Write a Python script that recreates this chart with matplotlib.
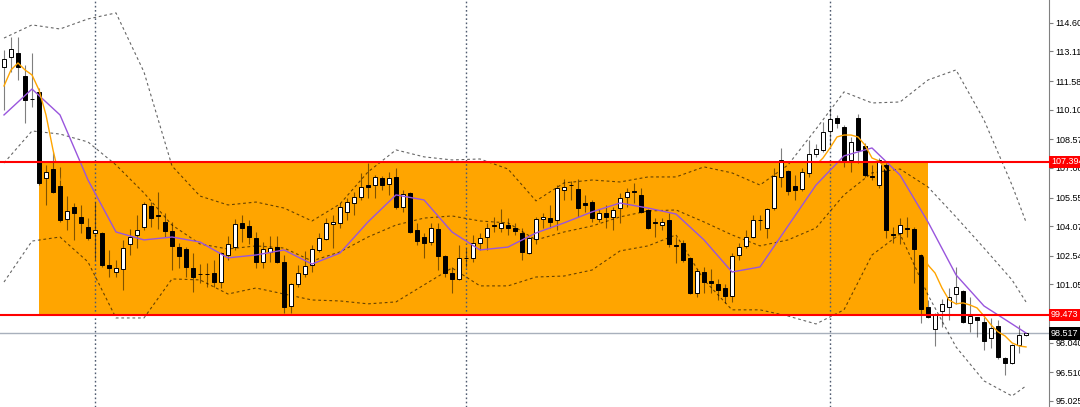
import matplotlib.pyplot as plt
from matplotlib.patches import Rectangle

# daily candles, oldest first
opens = [112.31, 112.83, 113.04, 111.85, 110.66, 111.02, 106.57, 107.03, 106.15, 104.44,
         105.06, 104.55, 104.03, 103.72, 103.72, 102.06, 101.70, 101.86, 103.15, 103.62,
         104.03, 105.12, 104.65, 104.29, 103.82, 102.99, 102.89, 101.91, 101.60, 101.62,
         101.65, 101.18, 102.58, 102.99, 104.24, 104.08, 103.46, 102.22, 102.74, 102.99,
         102.22, 99.94, 101.08, 101.60, 102.06, 102.84, 103.41, 104.18, 104.24, 104.81,
         105.27, 105.58, 106.20, 106.20, 106.57, 106.26, 106.62, 105.06, 105.79, 103.87,
         103.51, 103.25, 103.92, 102.53, 101.65, 101.34, 102.43, 102.43, 103.20, 103.51,
         104.13, 103.98, 104.13, 103.98, 103.72, 102.68, 103.41, 104.44, 104.49, 104.39,
         105.95, 106.20, 106.00, 105.27, 105.32, 104.44, 104.75, 104.55, 105.01, 105.58,
         105.89, 105.69, 104.91, 104.29, 104.13, 104.39, 103.10, 103.20, 102.43, 100.61,
         101.70, 101.24, 101.08, 100.87, 100.46, 102.58, 103.05, 103.51, 104.39, 103.98,
         105.01, 106.62, 106.93, 106.15, 106.00, 106.83, 107.81, 108.02, 109.00, 109.67,
         109.21, 107.50, 109.67, 108.22, 106.67, 106.20, 107.24, 103.67, 103.72, 103.98,
         103.92, 102.58, 99.89, 98.75, 99.68, 99.89, 100.56, 100.72, 99.06, 99.37,
         99.11, 98.29, 98.91, 97.25, 96.99, 97.92, 98.44]
highs = [113.19, 113.87, 113.87, 112.42, 113.04, 111.23, 107.24, 107.91, 107.14, 105.63,
         105.27, 105.17, 104.49, 105.32, 103.77, 102.84, 102.32, 103.36, 103.92, 104.65,
         105.32, 105.32, 105.84, 104.75, 104.29, 103.20, 102.99, 102.68, 102.11, 102.17,
         102.32, 102.74, 103.56, 104.44, 104.65, 104.39, 103.77, 103.25, 103.56, 103.56,
         102.58, 101.13, 102.06, 102.79, 103.10, 103.72, 104.49, 104.65, 105.27, 105.53,
         105.84, 106.83, 107.34, 106.72, 106.67, 106.88, 107.08, 105.95, 105.84, 104.24,
         103.72, 104.24, 104.24, 102.58, 101.96, 103.10, 102.94, 103.62, 103.72, 104.24,
         104.55, 104.96, 104.49, 104.24, 103.98, 103.51, 104.55, 104.75, 105.17, 106.20,
         106.51, 106.41, 106.51, 105.69, 105.43, 104.96, 105.17, 105.06, 105.79, 106.05,
         106.31, 106.05, 104.96, 104.49, 104.49, 104.75, 103.51, 103.36, 102.48, 101.86,
         101.96, 101.86, 101.34, 101.08, 102.68, 103.20, 103.87, 104.65, 104.65, 105.01,
         107.08, 108.12, 106.98, 106.72, 107.08, 108.53, 108.33, 109.47, 110.19, 109.83,
         109.31, 108.69, 109.88, 108.38, 107.24, 107.60, 107.34, 104.03, 104.49, 104.55,
         104.03, 102.63, 100.25, 99.58, 100.30, 100.87, 101.96, 100.77, 100.41, 99.37,
         99.37, 99.32, 99.22, 97.30, 97.98, 98.96, 98.55]
lows = [110.09, 112.05, 111.64, 109.41, 110.24, 106.20, 105.17, 105.79, 104.29, 103.87,
        103.36, 103.72, 103.36, 102.32, 101.96, 101.44, 101.44, 100.77, 102.58, 102.94,
        103.87, 104.03, 103.92, 103.51, 101.80, 101.91, 101.44, 100.67, 101.13, 100.93,
        100.93, 100.87, 102.32, 102.84, 103.25, 103.15, 101.91, 101.91, 102.22, 102.17,
        99.58, 99.58, 100.93, 101.44, 101.70, 102.74, 103.36, 102.94, 103.98, 104.39,
        104.65, 105.43, 105.53, 105.53, 105.95, 105.69, 104.96, 104.81, 103.72, 103.10,
        102.43, 103.10, 101.80, 101.44, 100.61, 101.29, 101.96, 102.22, 102.84, 102.84,
        103.77, 103.77, 103.62, 103.62, 102.32, 102.63, 103.15, 103.98, 103.98, 103.87,
        105.43, 105.43, 104.55, 104.81, 104.29, 104.29, 103.98, 103.87, 104.24, 105.06,
        105.27, 104.75, 103.95, 103.51, 103.87, 102.99, 102.17, 102.22, 100.56, 100.41,
        100.61, 100.61, 100.25, 100.10, 100.15, 102.32, 102.94, 103.46, 103.87, 103.46,
        104.91, 106.10, 105.69, 105.43, 105.89, 106.62, 107.66, 107.91, 108.17, 109.15,
        107.14, 106.88, 107.34, 106.62, 106.46, 106.05, 103.46, 103.20, 103.15, 103.51,
        101.13, 99.06, 99.32, 97.87, 98.85, 99.22, 100.05, 99.06, 98.60, 98.34,
        97.67, 97.77, 97.20, 96.37, 96.94, 97.51, 98.39]
closes = [112.73, 113.24, 112.31, 110.60, 110.63, 106.31, 106.88, 105.84, 104.39, 104.86,
          104.75, 104.24, 103.46, 103.87, 102.06, 101.91, 101.91, 102.94, 103.51, 103.87,
          105.22, 104.49, 104.60, 103.82, 103.05, 102.53, 101.96, 101.44, 101.57, 101.60,
          101.18, 102.68, 103.15, 104.18, 103.98, 103.51, 102.22, 102.89, 102.94, 102.22,
          99.89, 101.08, 101.65, 102.01, 102.89, 103.46, 104.24, 104.29, 105.06, 105.32,
          105.58, 106.10, 106.10, 106.62, 106.20, 106.57, 105.06, 105.74, 103.77, 103.30,
          103.20, 103.98, 102.53, 101.65, 101.34, 102.43, 102.40, 103.20, 103.46, 103.98,
          104.10, 104.24, 103.98, 103.82, 102.74, 103.46, 104.44, 104.55, 104.29, 106.05,
          106.10, 106.18, 105.01, 105.17, 104.49, 104.75, 104.55, 104.91, 105.53, 105.84,
          105.84, 104.81, 103.98, 104.24, 104.29, 103.15, 103.07, 102.32, 100.61, 101.75,
          101.18, 101.13, 100.77, 100.46, 102.53, 102.99, 103.51, 104.39, 104.37, 104.96,
          106.67, 107.50, 105.89, 105.95, 106.88, 107.81, 108.07, 108.95, 109.62, 109.41,
          107.39, 108.43, 108.02, 106.72, 106.64, 107.50, 103.87, 103.64, 104.13, 103.95,
          102.89, 99.79, 99.37, 99.47, 100.05, 100.41, 100.93, 99.11, 99.42, 99.22,
          98.13, 98.80, 97.30, 96.99, 97.92, 98.44, 98.52]

band_idx = list(range(0, 145, 4)) + [146]
bb_upper = [113.81, 114.49, 114.28, 114.80, 115.11, 112.05, 107.19, 105.63, 105.17, 105.32,
            105.01, 104.34, 105.22, 106.88, 108.02, 107.66, 107.50, 107.55, 107.03, 105.38,
            106.31, 106.46, 106.36, 106.62, 106.62, 107.14, 106.83, 106.20, 107.24, 109.10,
            111.02, 110.45, 110.50, 111.64, 112.16, 109.57, 106.20, 104.29]
bb_middle = [107.34, 109.00, 108.84, 108.43, 107.24, 105.79, 104.13, 103.15, 102.89, 103.05,
             102.94, 102.27, 102.74, 103.51, 104.13, 104.49, 104.60, 104.34, 104.24, 103.36,
             103.77, 104.08, 104.55, 104.86, 104.91, 104.29, 103.62, 103.05, 103.36, 103.98,
             105.69, 106.83, 107.03, 106.10, 104.55, 102.94, 101.29, 100.15]
bb_lower = [101.18, 103.30, 103.51, 102.22, 99.32, 99.32, 101.34, 101.29, 100.56, 100.87,
            100.56, 100.25, 100.20, 100.05, 100.15, 101.03, 101.91, 100.98, 100.98, 101.44,
            101.49, 101.80, 102.79, 103.05, 103.62, 101.29, 99.74, 99.74, 99.42, 99.01,
            99.74, 102.58, 103.67, 100.51, 97.82, 96.06, 95.28, 95.80]
ma_slow = [109.83, 111.17, 109.83, 106.46, 103.77, 103.36, 103.51, 103.25, 102.43, 102.58,
           102.84, 102.11, 102.68, 104.29, 105.69, 105.43, 103.77, 102.84, 102.99, 103.72,
           104.24, 104.81, 105.27, 105.01, 104.70, 103.36, 101.70, 101.96, 104.08, 106.20,
           107.71, 108.12, 106.72, 104.29, 101.55, 99.94, 99.01, 98.54]

# fast average: only the parts that show outside the zone
fast_left_idx = list(range(0, 9))
fast_left = [111.33, 112.16, 112.52, 112.16, 111.90, 111.12, 109.83, 108.02, 106.46]
fast_mid_idx = list(range(116, 127))
fast_mid = [107.24, 107.60, 108.12, 108.69, 108.79, 108.79, 108.69, 108.27, 107.60, 107.45, 106.98]
fast_tail_idx = list(range(131, 147))
fast_tail = [102.89, 102.06, 101.65, 100.87, 100.25, 100.05, 100.10, 99.99, 99.84, 99.42,
             98.96, 98.60, 98.39, 98.03, 97.87, 97.82]

zone_top = 107.394
zone_bottom = 99.473
zone_from, zone_to = 5, 132
last_price = 98.517
separators = [13, 66, 118]
price_ticks = [114.600, 113.115, 111.585, 110.100, 108.570, 107.085, 105.555, 104.070,
               102.540, 101.055, 98.040, 96.510, 95.025]

ORANGE = "#FFA500"
PURPLE = "#9955dd"

plt.rcParams["font.family"] = ["Liberation Sans", "DejaVu Sans"]

fig = plt.figure(figsize=(10.8, 4.07), dpi=100)
ax = fig.add_axes([0, 0, 1049 / 1080, 1])
ax.set_xlim(-4 / 7, 1045 / 7)
ax.set_ylim(94.71, 115.78)

# zone
ax.add_patch(Rectangle((zone_from, zone_bottom), zone_to - zone_from, zone_top - zone_bottom,
                       facecolor=ORANGE, edgecolor="none", zorder=1))

# period separators and last price line
for s in separators:
    ax.axvline(s, color="#4f5b70", lw=1, ls=(0, (1.2, 1.8)), zorder=2)
ax.axhline(last_price, color="#a8b0bc", lw=1, zorder=2)

# bollinger bands
for band in (bb_upper, bb_middle, bb_lower):
    ax.plot(band_idx, band, color="black", alpha=0.6, lw=0.8, ls=(0, (2.5, 2.5)), zorder=3)

# candles
x = list(range(len(opens)))
ax.vlines(x, lows, highs, color="black", alpha=0.5, lw=0.8, zorder=4)
bottoms = [min(o, c) for o, c in zip(opens, closes)]
heights = [max(abs(c - o), 0.01) for o, c in zip(opens, closes)]
fills = ["white" if c >= o else "black" for o, c in zip(opens, closes)]
ax.bar(x, heights, bottom=bottoms, width=0.55, color=fills, edgecolor="black",
       linewidth=0.7, zorder=5)

# moving averages
ax.plot(band_idx, ma_slow, color=PURPLE, lw=1, zorder=6)
for xs, ys in ((fast_left_idx, fast_left), (fast_mid_idx, fast_mid), (fast_tail_idx, fast_tail)):
    ax.plot(xs, ys, color=ORANGE, lw=1, zorder=6)

# zone borders
for lvl in (zone_top, zone_bottom):
    ax.axhline(lvl, color="#ff0000", lw=1.5, zorder=7)

# price scale on the right
for side in ("top", "left", "bottom"):
    ax.spines[side].set_visible(False)
ax.spines["right"].set_color("#808080")
ax.spines["right"].set_linewidth(0.8)
ax.set_xticks([])
ax.yaxis.tick_right()
ax.set_yticks(price_ticks)
ax.set_yticklabels([f"{t:.3f}" for t in price_ticks])
ax.tick_params(axis="y", direction="out", length=3, width=0.8, color="#808080",
               labelsize=6.5, pad=1.5, labelcolor="black")

for lvl, bg in ((zone_top, "#ff0000"), (zone_bottom, "#ff0000"), (last_price, "black")):
    ax.annotate(f"{lvl:.3f}", xy=(1, lvl), xycoords=("axes fraction", "data"),
                xytext=(1.5, 0), textcoords="offset points", ha="left", va="center",
                fontsize=6.5, color="white", annotation_clip=False, zorder=10,
                bbox=dict(boxstyle="square,pad=0.2", fc=bg, ec="none"))

fig.savefig("out.png", dpi=100)
